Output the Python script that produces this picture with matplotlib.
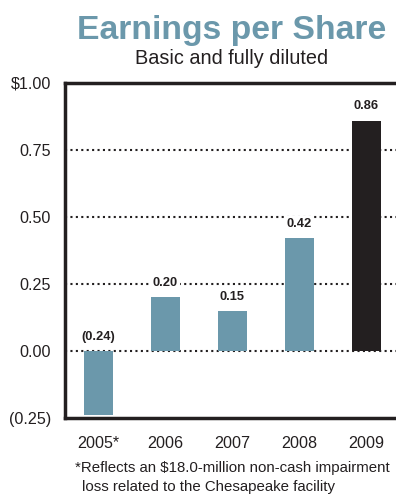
import matplotlib
matplotlib.use("Agg")
import matplotlib.pyplot as plt

years = ["2005*", "2006", "2007", "2008", "2009"]
eps = [-0.24, 0.20, 0.15, 0.42, 0.86]
labels = ["(0.24)", "0.20", "0.15", "0.42", "0.86"]
ytick_vals = [-0.25, 0.0, 0.25, 0.50, 0.75, 1.00]
ytick_labels = ["(0.25)", "0.00", "0.25", "0.50", "0.75", "$1.00"]

teal = "#6b98ab"
dark = "#231f20"
bar_colors = [teal, teal, teal, teal, dark]

plt.rcParams["font.family"] = ["Liberation Sans", "DejaVu Sans"]

fig = plt.figure(figsize=(3.96, 4.96), dpi=100)
ax = fig.add_axes([65 / 396, 1 - 418 / 496, 1 - 65 / 396 + 0.01, (418 - 83) / 496])

x = list(range(len(years)))
ax.bar(x, eps, width=0.43, color=bar_colors, zorder=3)

for v in [0.0, 0.25, 0.50, 0.75]:
    ax.axhline(v, color=dark, linestyle=(0, (1, 1.6)), linewidth=1.5, zorder=1)

for xi, v, lab in zip(x, eps, labels):
    y = max(v, 0) + 0.03
    ax.text(xi, y, lab, ha="center", va="bottom", fontsize=9.3, fontweight="bold",
            color=dark, zorder=4,
            bbox=dict(boxstyle="square,pad=0.15", fc="white", ec="none"))

ax.set_xlim(-0.5, 4.5)
ax.set_ylim(-0.25, 1.0)
ax.set_yticks(ytick_vals)
ax.set_yticklabels(ytick_labels)
ax.set_xticks(x)
ax.set_xticklabels(years)
ax.tick_params(axis="both", length=0, labelsize=11.6, colors=dark)
ax.tick_params(axis="y", pad=10)
ax.tick_params(axis="x", pad=13)

for side in ["left", "bottom", "top"]:
    ax.spines[side].set_linewidth(2.5)
    ax.spines[side].set_color(dark)
ax.spines["right"].set_visible(False)

fig.text(232 / 396, 1 - 31 / 496, "Earnings per Share", ha="center", va="center",
         fontsize=24.3, fontweight="bold", color=teal)
fig.text(232 / 396, 1 - 58 / 496, "Basic and fully diluted", ha="center", va="center",
         fontsize=14.3, color=dark)
fig.text(75 / 396, 1 - 468 / 496, "*Reflects an $18.0-million non-cash impairment",
         ha="left", va="center", fontsize=10.8, color=dark)
fig.text(82 / 396, 1 - 487 / 496, "loss related to the Chesapeake facility",
         ha="left", va="center", fontsize=10.8, color=dark)

fig.savefig("out.png", dpi=100)
